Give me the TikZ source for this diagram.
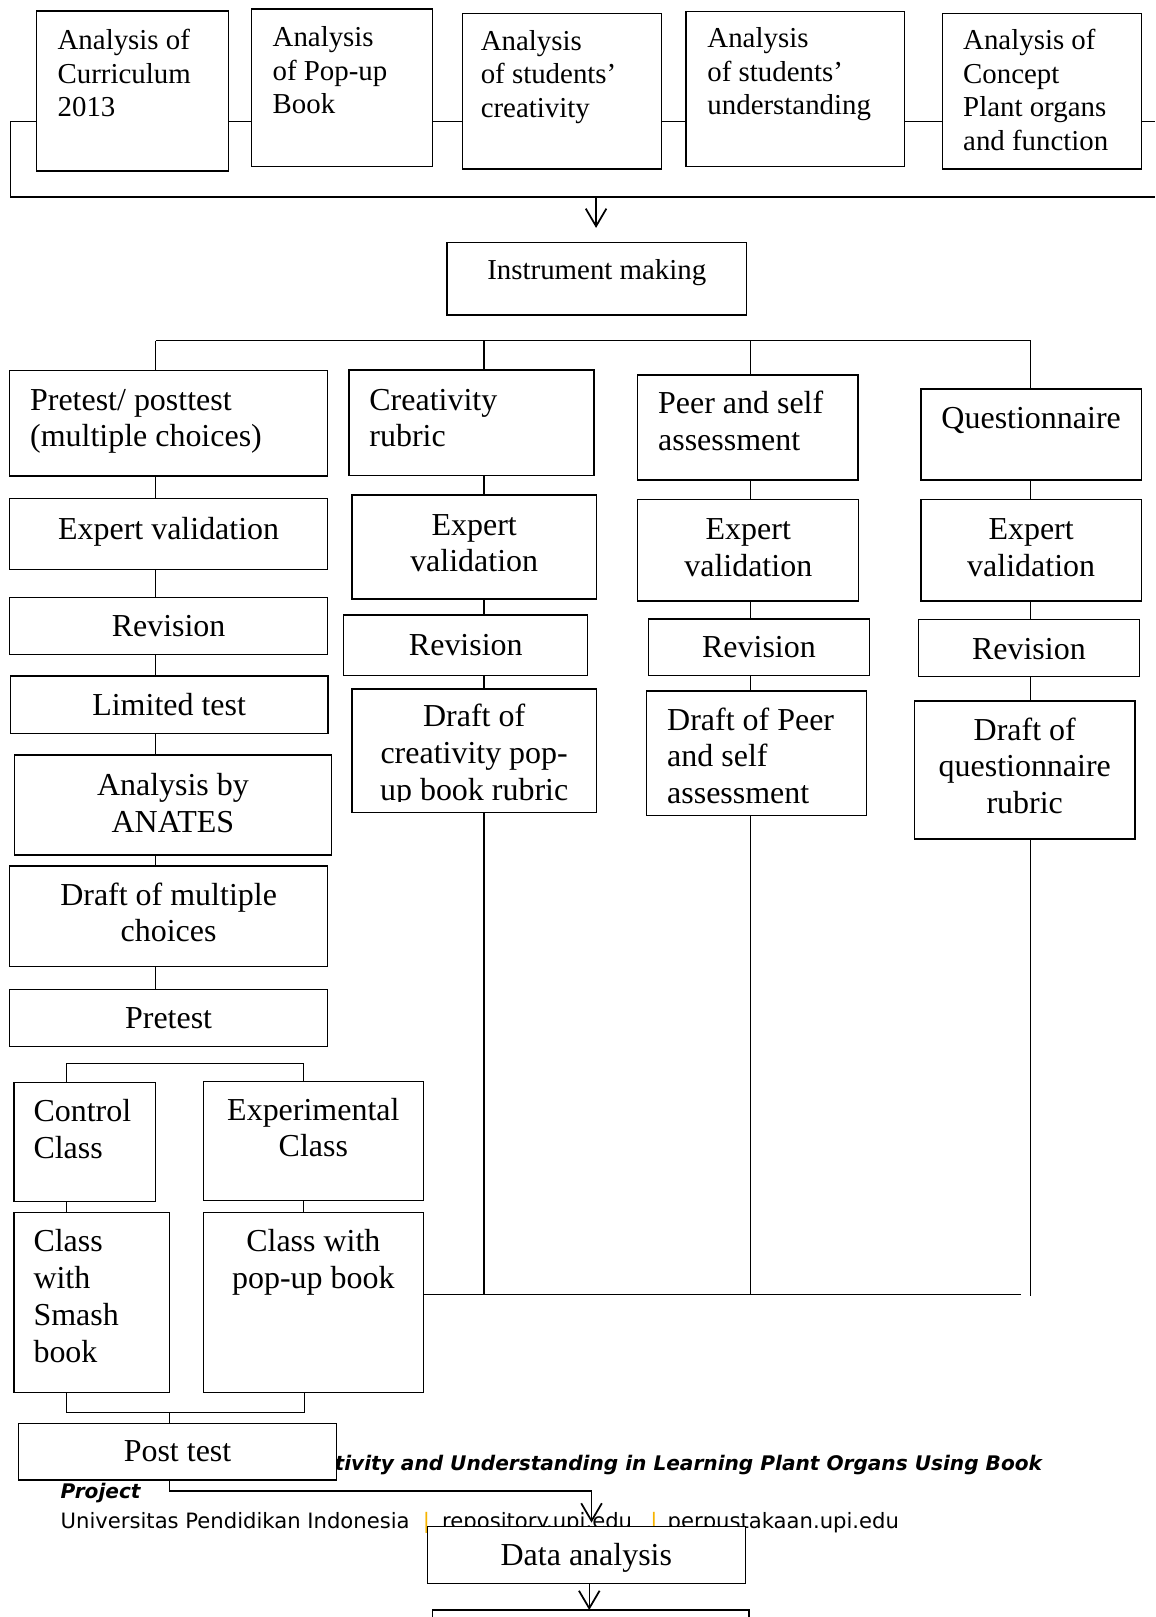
\documentclass[tikz,border=0pt]{standalone}
\usepackage{fontspec}
\setmainfont{Liberation Serif}
\newfontfamily\ftf{DejaVu Sans}
\usetikzlibrary{arrows.meta}
\definecolor{barcol}{RGB}{247,180,0}
\newcommand\mkbox[5]{\node[box, minimum width={(#4)-(#2)}, minimum height={(#5)-(#3)}] (#1) at ({((#2)+(#4))/2},{((#3)+(#5))/2}) {};}
\begin{document}
\begin{tikzpicture}[x=1pt,y=-1pt,
  ln/.style={line width=1.2pt},
  box/.style={draw, line width=1.2pt, fill=white, inner sep=0pt, outer sep=0pt},
  toptxt/.style={font=\fontsize{28}{32.5}\selectfont, inner sep=0pt, align=left},
  lowtxt/.style={font=\fontsize{31}{35.6}\selectfont, inner sep=0pt, align=center},
  lowleft/.style={font=\fontsize{31}{35.6}\selectfont, inner sep=0pt, align=left, anchor=north west},
  arr/.style={ln, -{Straight Barb[length=17pt,width=20pt,line width=1.7pt]}},
  foot/.style={font=\ftf\fontsize{20.5}{24}\selectfont, inner sep=0pt, anchor=base west},
  footbi/.style={font=\ftf\bfseries\itshape\fontsize{19.5}{24}\selectfont, inner sep=0pt},
]
\useasboundingbox (0,0) rectangle (1120,1568);
\clip (0,0) rectangle (1120,1568);

% footer text (lies under some boxes)
\node[footbi, anchor=base east] (ft1) at (1010.6,1426.3) {tivity and Understanding in Learning Plant Organs Using Book};
\node[footbi, anchor=base west] (ft2) at (58.6,1452.9) {Project};
\node[foot] (ft3) at (58.6,1482) {Universitas Pendidikan Indonesia};
\node[foot, anchor=base, text=barcol] (ft4) at (413.5,1482) {|};
\node[foot] (ft5) at (428.6,1482) {repository.upi.edu};
\node[foot, anchor=base, text=barcol] (ft6) at (634,1482) {|};
\node[foot] (ft7) at (647.2,1482) {perpustakaan.upi.edu};

% top row
\mkbox{b1}{35.3}{10.7}{221.6}{165.8}
\mkbox{b2}{243.8}{8.7}{419.3}{161.6}
\mkbox{b3}{448.3}{12.9}{641.3}{163.9}
\mkbox{b4}{665.2}{11.3}{877.2}{161.6}
\mkbox{b5}{913.7}{12.9}{1106.8}{163.9}
\node[toptxt, anchor=north west] (b1t) at (55.7,25.05) {\strut Analysis of\\Curriculum\\2013};
\node[toptxt, anchor=north west] (b2t) at (264.2,22.55) {\strut Analysis\\of Pop-up\\Book};
\node[toptxt, anchor=north west] (b3t) at (466,25.75) {\strut Analysis\\of students’\\creativity};
\node[toptxt, anchor=north west] (b4t) at (685.8,23.25) {\strut Analysis\\of students’\\understanding};
\node[toptxt, anchor=north west] (b5t) at (933.8,25.25) {\strut Analysis of\\Concept\\Plant organs\\and function};

\coordinate (tl) at (10,118);
\coordinate (bl) at (10,191);
\coordinate (br) at (1120,191);
\coordinate (tr) at (1120,118);
\coordinate (ar1) at (578,191);
\coordinate (ar2) at (578,221);
\draw[ln] (b1.west |- tl) -- (tl) -- (bl) -- (br);
\draw[ln] (b1.east |- tl) -- (b2.west |- tl);
\draw[ln] (b2.east |- tl) -- (b3.west |- tl);
\draw[ln] (b3.east |- tl) -- (b4.west |- tl);
\draw[ln] (b4.east |- tl) -- (b5.west |- tl);
\draw[ln] (b5.east |- tl) -- (tr);
\draw[arr] (ar1) -- (ar2);

% instrument making
\mkbox{ins}{433.5}{235}{724}{305.5}
\node[toptxt, anchor=north] (inst) at (578.75,247.75) {\strut Instrument making};

% branch line
\coordinate (c1) at (151,330.5);
\coordinate (c2) at (469.4,330.5);
\coordinate (c3) at (727.8,330.5);
\coordinate (c4) at (999.4,330.5);
\draw[ln] (c1) -- (c4);

% column 1
\mkbox{p1}{9.3}{359.4}{317.7}{461.6}
\mkbox{ev1}{9.3}{483.2}{317.7}{552.1}
\mkbox{r1}{9.3}{579.2}{317.7}{634.5}
\mkbox{l1}{10}{655.5}{318}{711}
\mkbox{a1}{13.7}{732.1}{321.7}{829.1}
\mkbox{d1}{9.3}{839.8}{317.7}{937.4}
\mkbox{pre}{9.3}{959.3}{317.7}{1015}
\node[lowleft] (p1t) at (29,372.68) {\strut Pretest/ posttest\\(multiple choices)};
\node[lowtxt, anchor=north] (ev1t) at (163.5,498.08) {\strut Expert validation};
\node[lowtxt, anchor=north] (r1t) at (163.5,592.48) {\strut Revision};
\node[lowtxt, anchor=north] (l1t) at (164,668.38) {\strut Limited test};
\node[lowtxt, anchor=north] (a1t) at (167.7,746.08) {\strut Analysis by\\ANATES};
\node[lowtxt, anchor=north] (d1t) at (163.5,852.68) {\strut Draft of multiple\\choices};
\node[lowtxt, anchor=north] (pret) at (163.5,972.28) {\strut Pretest};

% column 2
\mkbox{cr}{338.4}{358.8}{576}{460.9}
\mkbox{ev2}{341.4}{480}{578.2}{580.8}
\mkbox{r2}{333.3}{596.4}{570}{655.2}
\mkbox{d2}{341.4}{668.1}{578.2}{788}
\node[lowleft] (crt) at (358,372.68) {\strut Creativity\\rubric};
\node[lowtxt, anchor=north] (ev2t) at (459.8,493.88) {\strut Expert\\validation};
\node[lowtxt, anchor=north] (r2t) at (451.7,610.88) {\strut Revision};
\begin{scope}
\clip (341.4,668.1) rectangle (578.2,777.5);
\node[lowtxt, anchor=north] (d2t) at (459.8,679.68) {\strut Draft of\\creativity pop-\\up book rubric};
\end{scope}

% column 3
\mkbox{ps}{618.5}{363.6}{831.9}{465.5}
\mkbox{ev3}{618.5}{484.2}{832.7}{582.8}
\mkbox{r3}{629.1}{600.2}{843}{655.2}
\mkbox{d3}{626.9}{670.1}{840.4}{790.9}
\node[lowleft] (pst) at (638,375.88) {\strut Peer and self\\assessment};
\node[lowtxt, anchor=north] (ev3t) at (725.6,498.08) {\strut Expert\\validation};
\node[lowtxt, anchor=north] (r3t) at (736,612.48) {\strut Revision};
\node[lowleft] (d3t) at (646.8,682.98) {\strut Draft of Peer\\and self\\assessment};

% column 4
\mkbox{q}{893}{377.2}{1106.8}{465.5}
\mkbox{ev4}{893}{484.2}{1106.8}{582.8}
\mkbox{r4}{890.8}{600.5}{1104.6}{656.2}
\mkbox{d4}{886.8}{679.8}{1100.6}{813.6}
\node[lowtxt, anchor=north] (qt) at (999.9,390.38) {\strut Questionnaire};
\node[lowtxt, anchor=north] (ev4t) at (999.9,498.08) {\strut Expert\\validation};
\node[lowtxt, anchor=north] (r4t) at (997.7,614.08) {\strut Revision};
\node[lowtxt, anchor=north] (d4t) at (993.7,692.68) {\strut Draft of\\questionnaire\\rubric};

% classes
\mkbox{cc}{13.6}{1049.9}{151}{1165.3}
\mkbox{ec}{197.2}{1048.9}{410.5}{1164.3}
\mkbox{cs}{13.6}{1175.6}{164.2}{1350.2}
\mkbox{ep}{197.2}{1175.6}{410.5}{1350.2}
\node[lowleft] (cct) at (32.3,1062.78) {\strut Control\\Class};
\node[lowtxt, anchor=north] (ect) at (303.85,1061.08) {\strut Experimental\\Class};
\node[lowleft] (cst) at (32.3,1188.88) {\strut Class\\with\\Smash\\book};
\node[lowtxt, anchor=north] (ept) at (303.85,1188.88) {\strut Class with\\pop-up book};

% bottom
\mkbox{post}{17.9}{1380.2}{326.4}{1435.2}
\node[lowtxt, anchor=north] (postt) at (172.15,1392.48) {\strut Post test};
\mkbox{da}{414.3}{1480.4}{722.8}{1535.3}
\node[lowtxt, anchor=north] (dat) at (568.55,1492.68) {\strut Data analysis};
\mkbox{last}{419.3}{1561.2}{726.4}{1616.2}

% connectors in columns
\foreach \ua/\ub in {p1/ev1, ev1/r1, r1/l1, l1/a1, a1/d1, d1/pre}
  \draw[ln] (\ua.south -| c1) -- (\ub.north -| c1);
\foreach \ua/\ub in {cr/ev2, ev2/r2, r2/d2}
  \draw[ln] (\ua.south -| c2) -- (\ub.north -| c2);
\foreach \ua/\ub in {ps/ev3, ev3/r3, r3/d3}
  \draw[ln] (\ua.south -| c3) -- (\ub.north -| c3);
\foreach \ua/\ub in {q/ev4, ev4/r4, r4/d4}
  \draw[ln] (\ua.south -| c4) -- (\ub.north -| c4);
\draw[ln] (c1) -- (c1 |- p1.north);
\draw[ln] (c2) -- (c2 |- cr.north);
\draw[ln] (c3) -- (c3 |- ps.north);
\draw[ln] (c4) -- (c4 |- q.north);

\coordinate (hl) at (990,1255);
\coordinate (c4e) at (999.4,1256.5);
\draw[ln] (d2.south -| c2) -- (c2 |- hl);
\draw[ln] (d3.south -| c3) -- (c3 |- hl);
\draw[ln] (d4.south -| c4) -- (c4e);
\draw[ln] (ep.east |- hl) -- (hl);

\coordinate (k1) at (64.6,1031.1);
\coordinate (k2) at (294.1,1031.1);
\draw[ln] (cc.north -| k1) -- (k1) -- (k2) -- (ec.north -| k2);
\draw[ln] (cc.south -| k1) -- (cs.north -| k1);
\draw[ln] (ec.south -| k2) -- (ep.north -| k2);

\coordinate (m1) at (64.3,1369.9);
\coordinate (m2) at (295,1369.9);
\coordinate (m3) at (164.3,1369.9);
\draw[ln] (cs.south -| m1) -- (m1) -- (m2) -- (ep.south -| m2);
\draw[ln] (m3) -- (post.north -| m3);

\coordinate (n1) at (164.3,1445.8);
\coordinate (n2) at (573.6,1445.8);
\draw[arr, shorten >=4pt] (post.south -| n1) -- (n1) -- (n2) -- (da.north -| n2);
\coordinate (o1) at (571.4,1540);
\draw[arr] (da.south -| o1) -- (last.north -| o1);
\end{tikzpicture}
\end{document}
